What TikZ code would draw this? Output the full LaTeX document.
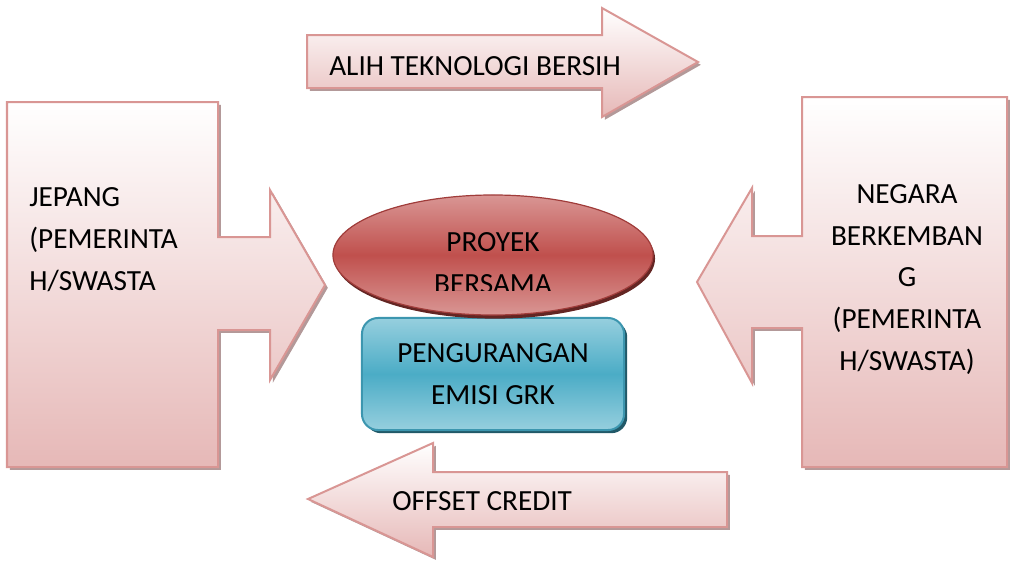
\documentclass[tikz,border=0pt]{standalone}
\usepackage{fontspec}
\setmainfont{Carlito}
\usetikzlibrary{positioning}
\usetikzlibrary{shapes.geometric}
\usetikzlibrary{shadows}

\definecolor{pinkline}{RGB}{217,150,148}
\definecolor{pinkfill}{RGB}{230,184,183}
\definecolor{pinkshadow}{RGB}{160,128,128}
\definecolor{redfill}{RGB}{192,80,77}
\definecolor{redlight}{RGB}{217,150,148}
\definecolor{redline}{RGB}{160,60,58}
\definecolor{redshadow}{RGB}{99,37,35}
\definecolor{bluefill}{RGB}{75,172,198}
\definecolor{bluelight}{RGB}{150,207,222}
\definecolor{blueline}{RGB}{60,150,175}
\definecolor{blueshadow}{RGB}{33,89,104}

\begin{document}
\begin{tikzpicture}[x=0.025cm, y=-0.025cm]

% Define styles for different elements
\tikzstyle{pinkshape} = [draw=pinkline, line width=0.05cm, top color=white, bottom color=pinkfill, drop shadow={shadow xshift=0.07cm, shadow yshift=-0.07cm, fill=pinkshadow, opacity=0.8}]
\tikzstyle{bigtext} = [inner sep=0pt, font=\fontsize{20.8}{29.6}\selectfont]
\tikzstyle{project} = [ellipse, minimum width=8cm, minimum height=3cm, draw=redline, line width=0.03cm, top color=redlight, bottom color=redlight, middle color=redfill, drop shadow={shadow xshift=0.05cm, shadow yshift=-0.09cm, fill=redshadow, opacity=1}]
\tikzstyle{emission} = [rectangle, rounded corners=0.4cm, minimum width=6.55cm, minimum height=2.8cm, draw=blueline, line width=0.05cm, top color=bluelight, bottom color=bluelight, middle color=bluefill, drop shadow={shadow xshift=0.08cm, shadow yshift=-0.08cm, fill=blueshadow, opacity=1}, bigtext, align=center]

\useasboundingbox (0,0) rectangle (1010,560);

% Draw the block arrows
\draw [pinkshape] (7,102) -- (218,102) -- (218,237) -- (270,237) -- (270,190) -- (325,285) -- (270,380) -- (270,330) -- (218,330) -- (218,467) -- (7,467) -- cycle;
\draw [pinkshape] (1007,97) -- (1007,467) -- (802,467) -- (802,328) -- (752,328) -- (752,383) -- (697,282) -- (752,188) -- (752,236) -- (802,236) -- (802,97) -- cycle;
\draw [pinkshape] (307,35) -- (602,35) -- (602,8) -- (698,62) -- (602,117) -- (602,88) -- (307,88) -- cycle;
\draw [pinkshape] (727,472) -- (433,472) -- (433,443) -- (308,499) -- (433,557) -- (433,527) -- (727,527) -- cycle;

% Draw the centre nodes
\node (emisi) [emission] at (493,374) {PENGURANGAN\\EMISI GRK};
\node (proyekshape) [project] at (493,255) {};
\begin{scope}
\clip (333,190) rectangle (653,290);
\node (proyek) [bigtext, align=center, anchor=base] at (493,293) {PROYEK\\BERSAMA};
\end{scope}

% Add the texts (base = last line)
\node (jepang) [bigtext, align=left, anchor=base west] at (29,290) {JEPANG\\(PEMERINTA\\H/SWASTA};
\node (negara) [bigtext, align=center, anchor=base] at (907,370) {NEGARA\\BERKEMBAN\\G\\(PEMERINTA\\H/SWASTA)};
\node (alih) [bigtext, anchor=base west] at (329,75) {ALIH TEKNOLOGI BERSIH};
\node (offset) [bigtext, anchor=base west] at (392,510) {OFFSET CREDIT};
\end{tikzpicture}
\end{document}
